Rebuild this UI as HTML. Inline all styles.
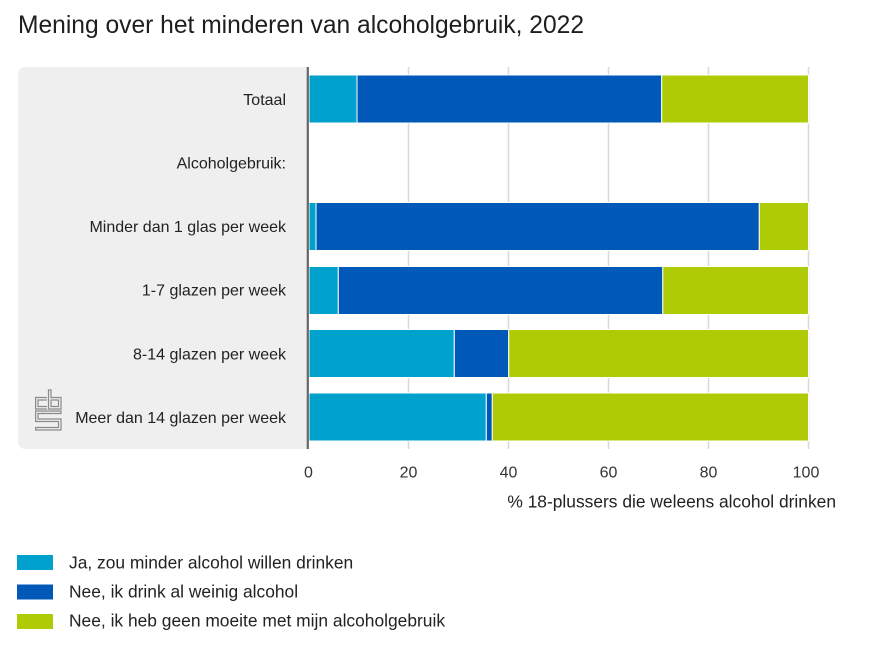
<!DOCTYPE html>
<html>
<head>
<meta charset="utf-8">
<style>
  html, body { margin: 0; padding: 0; background: #fff; }
  body { width: 874px; height: 656px; overflow: hidden; }
  svg { display: block; font-family: "Liberation Sans", Arial, sans-serif; }
</style>
</head>
<body>
<svg width="874" height="656" viewBox="0 0 874 656" xmlns="http://www.w3.org/2000/svg">
  <!-- Title -->
  <text x="18" y="33" font-size="24.6" fill="#1e1e1e">Mening over het minderen van alcoholgebruik, 2022</text>

  <!-- Gray label panel -->
  <path d="M26,67 H308 V449 H26 Q18,449 18,441 V75 Q18,67 26,67 Z" fill="#efefef"/>

  <!-- Gridlines -->
  <g stroke="#d8d8d8" stroke-width="1.5">
    <line x1="408.5" y1="67" x2="408.5" y2="449"/>
    <line x1="508.5" y1="67" x2="508.5" y2="449"/>
    <line x1="608.5" y1="67" x2="608.5" y2="449"/>
    <line x1="708.5" y1="67" x2="708.5" y2="449"/>
    <line x1="808.5" y1="67" x2="808.5" y2="449"/>
  </g>

  <!-- Bars -->
  <g stroke="#ffffff" stroke-width="1">
    <!-- Totaal -->
    <rect x="309" y="75" width="48" height="48" fill="#00a1cd"/>
    <rect x="357" y="75" width="304.7" height="48" fill="#0058b8"/>
    <rect x="661.7" y="75" width="146.8" height="48" fill="#afcb05"/>
    <!-- Minder dan 1 glas -->
    <rect x="309" y="202.5" width="7" height="48" fill="#00a1cd"/>
    <rect x="316" y="202.5" width="443.3" height="48" fill="#0058b8"/>
    <rect x="759.3" y="202.5" width="49.2" height="48" fill="#afcb05"/>
    <!-- 1-7 -->
    <rect x="309" y="266.5" width="29.3" height="48" fill="#00a1cd"/>
    <rect x="338.3" y="266.5" width="324.5" height="48" fill="#0058b8"/>
    <rect x="662.8" y="266.5" width="145.7" height="48" fill="#afcb05"/>
    <!-- 8-14 -->
    <rect x="309" y="329.5" width="145.3" height="48" fill="#00a1cd"/>
    <rect x="454.3" y="329.5" width="54.4" height="48" fill="#0058b8"/>
    <rect x="508.7" y="329.5" width="299.8" height="48" fill="#afcb05"/>
    <!-- Meer dan 14 -->
    <rect x="309" y="393" width="177.3" height="48" fill="#00a1cd"/>
    <rect x="486.3" y="393" width="6" height="48" fill="#0058b8"/>
    <rect x="492.3" y="393" width="316.2" height="48" fill="#afcb05"/>
  </g>

  <!-- Axis line -->
  <line x1="307.8" y1="67" x2="307.8" y2="449" stroke="#666666" stroke-width="2.2"/>

  <!-- Category labels -->
  <g font-size="16" fill="#222" text-anchor="end">
    <text x="286" y="104.8">Totaal</text>
    <text x="286" y="168.3">Alcoholgebruik:</text>
    <text x="286" y="232">Minder dan 1 glas per week</text>
    <text x="286" y="295.7">1-7 glazen per week</text>
    <text x="286" y="359.3">8-14 glazen per week</text>
    <text x="286" y="423">Meer dan 14 glazen per week</text>
  </g>

  <!-- CBS logo -->
  <g fill="none" stroke="#8a8a8a" stroke-width="1.2">
    <!-- c -->
    <path d="M47,397.5 H35.6 V409 H47 M47,400 H38 V406.5 H47"/>
    <!-- b -->
    <path d="M48.5,390 V409 H61 V397.5 H51 V390 Z M51,400 H58.5 V406.5 H51 Z"/>
    <!-- S -->
    <path d="M61,411 H35.6 V421.5 H58.5 V427.5 H35.6 V430 H61 V419 H38 V413.5 H61 Z"/>
  </g>

  <!-- Tick labels -->
  <g font-size="16" fill="#333" text-anchor="middle">
    <text x="308.5" y="477.5">0</text>
    <text x="408.5" y="477.5">20</text>
    <text x="508.5" y="477.5">40</text>
    <text x="608.5" y="477.5">60</text>
    <text x="708.5" y="477.5">80</text>
    <text x="806" y="477.5">100</text>
  </g>

  <!-- Axis title -->
  <text x="836" y="507.5" font-size="17.4" fill="#222" text-anchor="end">% 18-plussers die weleens alcohol drinken</text>

  <!-- Legend -->
  <rect x="17" y="555" width="36" height="15" fill="#00a1cd"/>
  <rect x="17" y="584.5" width="36" height="15" fill="#0058b8"/>
  <rect x="17" y="614" width="36" height="15" fill="#afcb05"/>
  <g font-size="17.4" fill="#222">
    <text x="69" y="568.3">Ja, zou minder alcohol willen drinken</text>
    <text x="69" y="597.5">Nee, ik drink al weinig alcohol</text>
    <text x="69" y="626.7">Nee, ik heb geen moeite met mijn alcoholgebruik</text>
  </g>
</svg>
</body>
</html>
